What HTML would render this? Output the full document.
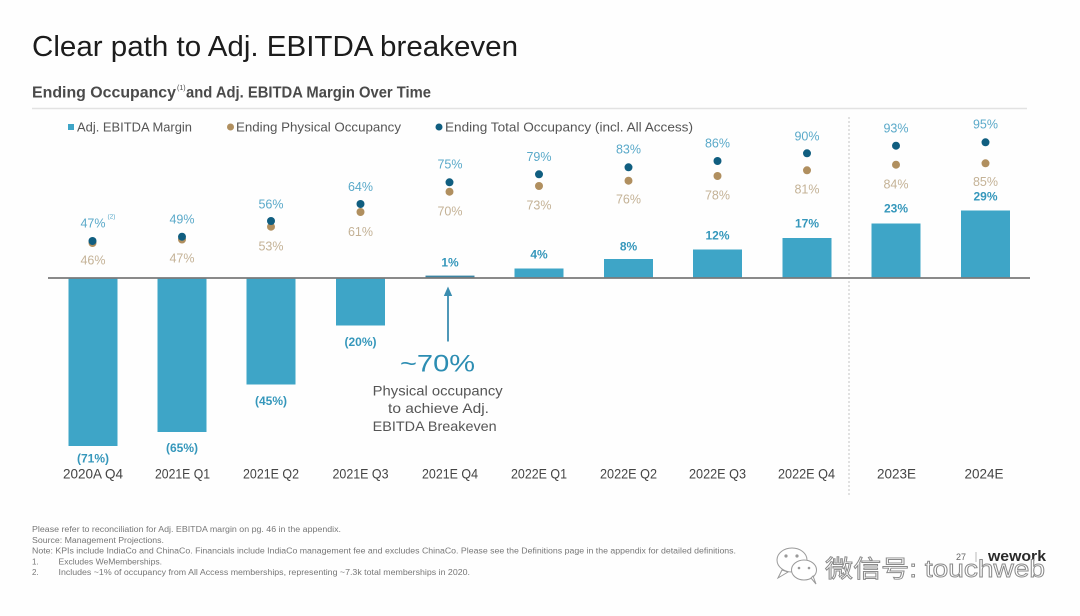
<!DOCTYPE html>
<html><head><meta charset="utf-8"><style>
html,body{margin:0;padding:0;background:#fff;}
svg{display:block;}
text{font-family:"Liberation Sans","Noto Sans CJK SC",sans-serif;}
</style></head><body>
<svg width="1080" height="616" viewBox="0 0 1080 616" xmlns="http://www.w3.org/2000/svg">
<rect width="1080" height="616" fill="#fefefe"/>
<!-- Title -->
<text x="32" y="56" font-size="29" fill="#1c1c1c" textLength="486" lengthAdjust="spacingAndGlyphs">Clear path to Adj. EBITDA breakeven</text>
<!-- Subtitle -->
<text x="32" y="97.5" font-size="16" font-weight="bold" fill="#4a4a4a" textLength="144" lengthAdjust="spacingAndGlyphs">Ending Occupancy</text>
<text x="177" y="90" font-size="7" fill="#4a4a4a">(1)</text>
<text x="186" y="97.5" font-size="16" font-weight="bold" fill="#4a4a4a" textLength="245" lengthAdjust="spacingAndGlyphs">and Adj. EBITDA Margin Over Time</text>
<line x1="32" y1="108.5" x2="1027" y2="108.5" stroke="#e2e2e2" stroke-width="1.5"/>
<!-- Legend -->
<rect x="68" y="124" width="6" height="6" fill="#3ea5c7"/>
<text x="77" y="131.5" font-size="13" fill="#555" textLength="115" lengthAdjust="spacingAndGlyphs">Adj. EBITDA Margin</text>
<circle cx="230.5" cy="127" r="3.5" fill="#b08f5f"/>
<text x="236" y="131.5" font-size="13" fill="#555" textLength="165" lengthAdjust="spacingAndGlyphs">Ending Physical Occupancy</text>
<circle cx="439" cy="127" r="3.5" fill="#105e80"/>
<text x="445" y="131.5" font-size="13" fill="#555" textLength="248" lengthAdjust="spacingAndGlyphs">Ending Total Occupancy (incl. All Access)</text>

<!-- dashed separator -->
<line x1="849" y1="117" x2="849" y2="495" stroke="#c4c4c4" stroke-width="1" stroke-dasharray="2,2"/>

<!-- Bars (baseline 278, 2.366px per %) -->
<g fill="#3ea5c7">
<rect x="68.5" y="278" width="49" height="168"/>
<rect x="157.5" y="278" width="49" height="154"/>
<rect x="246.5" y="278" width="49" height="106.5"/>
<rect x="336" y="278" width="49" height="47.5"/>
<rect x="514.5" y="268.5" width="49" height="9.5"/>
<rect x="604" y="259" width="49" height="19"/>
<rect x="693" y="249.5" width="49" height="28.5"/>
<rect x="782.5" y="238" width="49" height="40"/>
<rect x="871.5" y="223.5" width="49" height="54.5"/>
<rect x="961" y="210.5" width="49" height="67.5"/>
</g>
<rect x="425.5" y="275.6" width="49" height="2.4" fill="#3b84a2"/>
<line x1="48" y1="278" x2="1030" y2="278" stroke="#7a7a7a" stroke-width="1.8"/>

<!-- Bar labels -->
<g font-size="12" font-weight="bold" fill="#3597bb" text-anchor="middle">
<text x="93" y="462.5">(71%)</text>
<text x="182" y="452">(65%)</text>
<text x="271" y="405">(45%)</text>
<text x="360.5" y="346">(20%)</text>
<text x="450" y="266.3">1%</text>
<text x="539" y="258.3">4%</text>
<text x="628.5" y="250.3">8%</text>
<text x="717.5" y="239.3">12%</text>
<text x="807" y="227.6">17%</text>
<text x="896" y="212.6">23%</text>
<text x="985.5" y="200.3">29%</text>
</g>

<!-- Physical dots -->
<g fill="#b08f5f">
<circle cx="92.5" cy="243" r="4"/>
<circle cx="182" cy="239.5" r="4"/>
<circle cx="271" cy="226.7" r="4"/>
<circle cx="360.5" cy="212" r="4"/>
<circle cx="449.5" cy="191.7" r="4"/>
<circle cx="539" cy="186" r="4"/>
<circle cx="628.5" cy="180.7" r="4"/>
<circle cx="717.5" cy="176" r="4"/>
<circle cx="807" cy="170.3" r="4"/>
<circle cx="896" cy="164.7" r="4"/>
<circle cx="985.5" cy="163.3" r="4"/>
</g>
<!-- Total dots -->
<g fill="#105e80">
<circle cx="92.5" cy="241" r="4"/>
<circle cx="182" cy="236.7" r="4"/>
<circle cx="271" cy="221" r="4"/>
<circle cx="360.5" cy="204" r="4"/>
<circle cx="449.5" cy="182.3" r="4"/>
<circle cx="539" cy="174.3" r="4"/>
<circle cx="628.5" cy="167.3" r="4"/>
<circle cx="717.5" cy="161" r="4"/>
<circle cx="807" cy="153.3" r="4"/>
<circle cx="896" cy="145.7" r="4"/>
<circle cx="985.5" cy="142.3" r="4"/>
</g>

<!-- Total labels -->
<g font-size="12.5" fill="#5aa9c9" text-anchor="middle">
<text x="93" y="227.6">47%</text>
<text x="182" y="223.6">49%</text>
<text x="271" y="208.3">56%</text>
<text x="360.5" y="191">64%</text>
<text x="450" y="168.6">75%</text>
<text x="539" y="161">79%</text>
<text x="628.5" y="153.6">83%</text>
<text x="717.5" y="147.6">86%</text>
<text x="807" y="140.3">90%</text>
<text x="896" y="132.6">93%</text>
<text x="985.5" y="128.3">95%</text>
</g>
<text x="107.5" y="218.5" font-size="6.5" fill="#5aa9c9">(2)</text>
<!-- Physical labels -->
<g font-size="12.5" fill="#c4b296" text-anchor="middle">
<text x="93" y="264.3">46%</text>
<text x="182" y="262.6">47%</text>
<text x="271" y="250.3">53%</text>
<text x="360.5" y="236">61%</text>
<text x="450" y="215.3">70%</text>
<text x="539" y="209.3">73%</text>
<text x="628.5" y="203.6">76%</text>
<text x="717.5" y="199.3">78%</text>
<text x="807" y="193.6">81%</text>
<text x="896" y="188.3">84%</text>
<text x="985.5" y="186">85%</text>
</g>

<!-- X axis labels -->
<g font-size="14" fill="#444" text-anchor="middle">
<text x="93" y="478.3" textLength="60" lengthAdjust="spacingAndGlyphs">2020A Q4</text>
<text x="182.5" y="478.3" textLength="55" lengthAdjust="spacingAndGlyphs">2021E Q1</text>
<text x="271" y="478.3" textLength="56" lengthAdjust="spacingAndGlyphs">2021E Q2</text>
<text x="360.5" y="478.3" textLength="56" lengthAdjust="spacingAndGlyphs">2021E Q3</text>
<text x="450" y="478.3" textLength="56" lengthAdjust="spacingAndGlyphs">2021E Q4</text>
<text x="539" y="478.3" textLength="56" lengthAdjust="spacingAndGlyphs">2022E Q1</text>
<text x="628.5" y="478.3" textLength="57" lengthAdjust="spacingAndGlyphs">2022E Q2</text>
<text x="717.5" y="478.3" textLength="57" lengthAdjust="spacingAndGlyphs">2022E Q3</text>
<text x="806.5" y="478.3" textLength="57" lengthAdjust="spacingAndGlyphs">2022E Q4</text>
<text x="896.5" y="478.3" textLength="39" lengthAdjust="spacingAndGlyphs">2023E</text>
<text x="984" y="478.3" textLength="39" lengthAdjust="spacingAndGlyphs">2024E</text>
</g>

<!-- Annotation -->
<line x1="448" y1="341.5" x2="448" y2="294" stroke="#3b8db0" stroke-width="1.8"/>
<polygon points="448,286.5 443.8,296 452.2,296" fill="#3b8db0"/>
<text x="437.5" y="371.7" font-size="24" fill="#2c8db2" text-anchor="middle" textLength="75" lengthAdjust="spacingAndGlyphs">~70%</text>
<g font-size="14" fill="#555" text-anchor="middle">
<text x="437.7" y="395.5" textLength="130" lengthAdjust="spacingAndGlyphs">Physical occupancy</text>
<text x="438.5" y="413.2" textLength="101" lengthAdjust="spacingAndGlyphs">to achieve Adj.</text>
<text x="434.7" y="431" textLength="124" lengthAdjust="spacingAndGlyphs">EBITDA Breakeven</text>
</g>

<!-- Footnotes -->
<g font-size="8" fill="#777">
<text x="32" y="532" textLength="309" lengthAdjust="spacingAndGlyphs">Please refer to reconciliation for Adj. EBITDA margin on pg. 46 in the appendix.</text>
<text x="32" y="543" textLength="132" lengthAdjust="spacingAndGlyphs">Source: Management Projections.</text>
<text x="32" y="553.5" textLength="704" lengthAdjust="spacingAndGlyphs">Note: KPIs include IndiaCo and ChinaCo. Financials include IndiaCo management fee and excludes ChinaCo. Please see the Definitions page in the appendix for detailed definitions.</text>
<text x="32" y="564.5">1.</text>
<text x="58.5" y="564.5" textLength="103.5" lengthAdjust="spacingAndGlyphs">Excludes WeMemberships.</text>
<text x="32" y="575">2.</text>
<text x="58.5" y="575" textLength="411.5" lengthAdjust="spacingAndGlyphs">Includes ~1% of occupancy from All Access memberships, representing ~7.3k total memberships in 2020.</text>
</g>

<!-- page number and logo -->
<text x="956" y="560" font-size="9" fill="#666">27</text>
<line x1="976" y1="552" x2="976" y2="562" stroke="#bbb" stroke-width="1"/>
<text x="988" y="561" font-size="15" font-weight="bold" fill="#2a2a2a" textLength="58" lengthAdjust="spacingAndGlyphs" font-family="Liberation Serif, serif">wework</text>

<!-- watermark -->
<g fill="#fff" stroke="#9a9a9a" stroke-width="1">
<ellipse cx="792" cy="560" rx="15" ry="12"/>
<path d="M782,570 L778,578 L788,572 Z"/>
<ellipse cx="804" cy="570" rx="12.5" ry="10"/>
<path d="M811,578 L816,584 L813,576 Z"/>
</g>
<g fill="#9a9a9a">
<circle cx="786" cy="556" r="1.6"/><circle cx="797" cy="556" r="1.6"/>
<circle cx="799" cy="568" r="1.3"/><circle cx="809" cy="568" r="1.3"/>
</g>
<text x="825" y="577" font-size="24" fill="#fff" stroke="#8a8a8a" stroke-width="0.9" textLength="220" lengthAdjust="spacingAndGlyphs">微信号: touchweb</text>
</svg>
</body></html>
